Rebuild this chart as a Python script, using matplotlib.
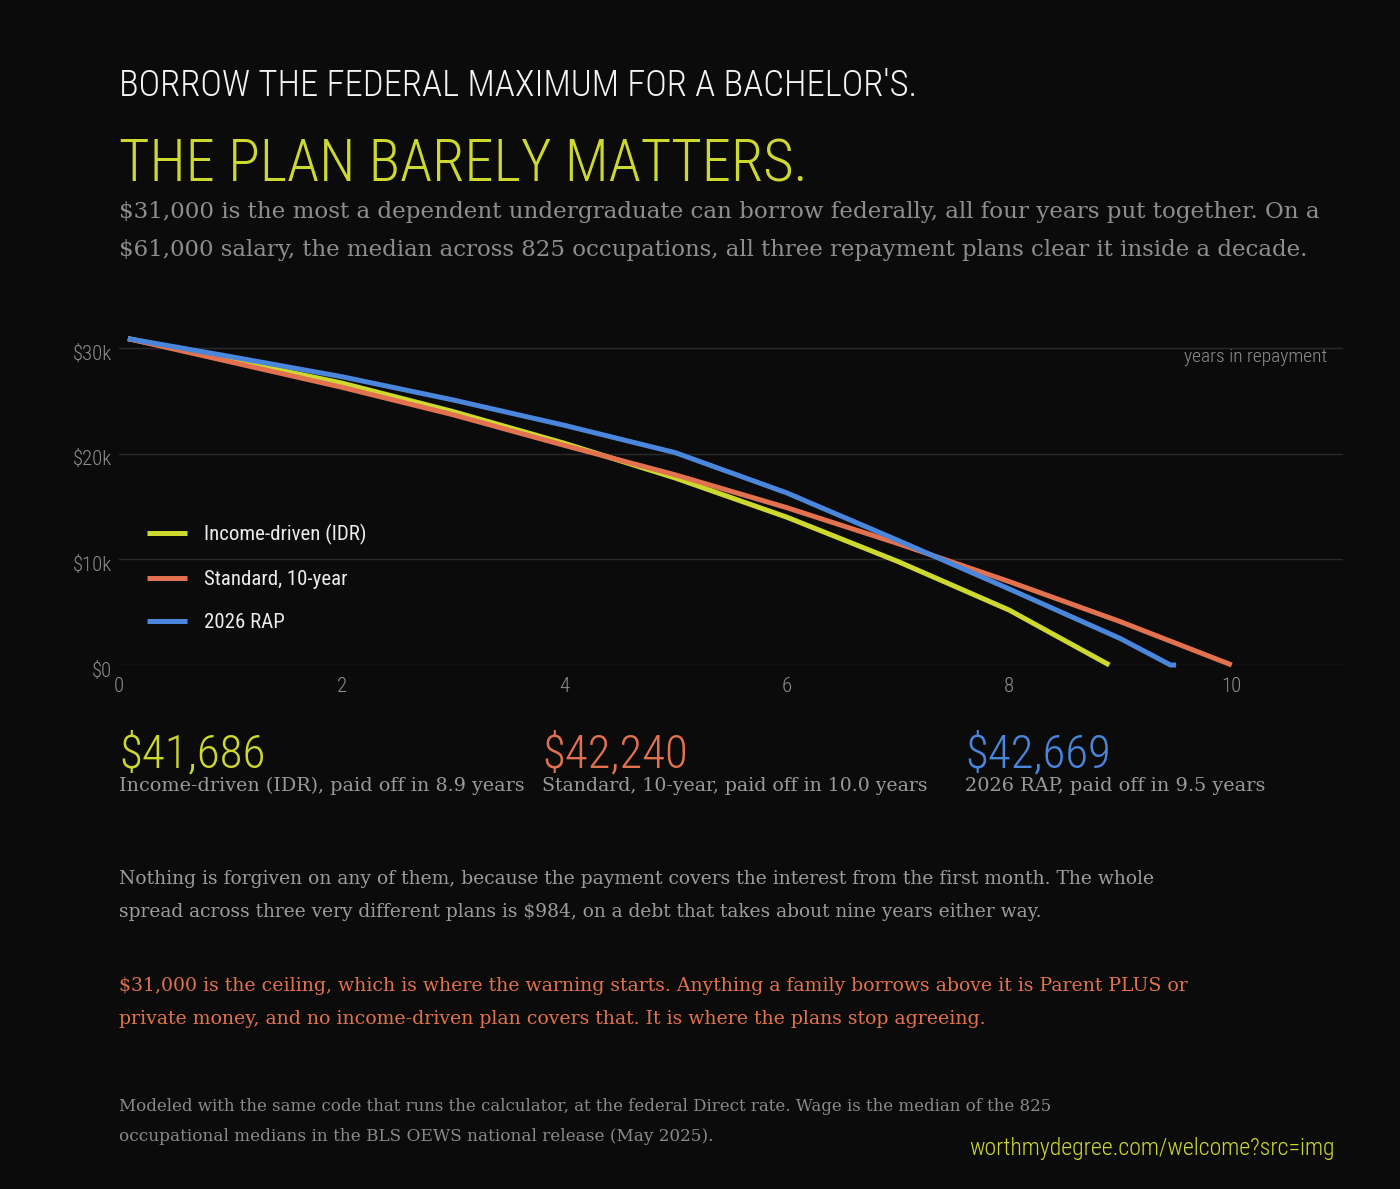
import matplotlib
matplotlib.use('Agg')
import matplotlib.pyplot as plt
import matplotlib.font_manager as fm
import matplotlib.transforms as mtransforms

# balances by year (first point is month one)
years_idr = [0.08, 1, 2, 3, 4, 5, 6, 7, 8, 8.9]
bal_idr = [30900, 28900, 26700, 24000, 21000, 17700, 14000, 9800, 5200, 0]
years_std = [0.08, 1, 2, 3, 4, 5, 6, 7, 8, 9, 10]
bal_std = [30900, 28700, 26300, 23700, 20800, 18000, 14900, 11500, 7900, 4100, 0]
years_rap = [0.08, 1, 2, 3, 4, 5, 6, 7, 8, 9, 9.45, 9.5]
bal_rap = [30900, 29200, 27300, 25100, 22700, 20100, 16300, 11800, 7200, 2500, 0, 0]

plan_names = ['Income-driven (IDR)', 'Standard, 10-year', '2026 RAP']
plan_totals = ['$41,686', '$42,240', '$42,669']
plan_years = ['8.9', '10.0', '9.5']

y_ticks = [0, 10000, 20000, 30000]
y_labels = ['$0', '$10k', '$20k', '$30k']
x_ticks = [0, 2, 4, 6, 8, 10]

BG = '#0b0b0b'
YEL = '#cdd92f'
ORA = '#e2714f'
BLU = '#4a86dc'
GRAY = '#8e8e8e'
colors = [YEL, ORA, BLU]

avail = {f.name for f in fm.fontManager.ttflist}
def pick(cands):
    for c in cands:
        if c in avail:
            return c
    return 'DejaVu Sans'

COND = pick(['Roboto Condensed', 'Liberation Sans Narrow', 'Open Sans Condensed', 'Roboto', 'Liberation Sans'])
SERIF = pick(['DejaVu Serif', 'Liberation Serif'])

W, H = 1400, 1189
fig = plt.figure(figsize=(14, 11.89), dpi=100, facecolor=BG)
renderer = fig.canvas.get_renderer()

def txt(x, y, s, width=None, size=14, ha='left', **kw):
    t = fig.text(x / W, 1 - y / H, s, ha=ha, va='baseline', fontsize=size, **kw)
    if width is not None:
        w = t.get_window_extent(renderer=renderer).width
        t.set_fontsize(size * width / w)
    return t

# headline block
txt(119, 96, "BORROW THE FEDERAL MAXIMUM FOR A BACHELOR'S.", width=800, size=30,
    color='#f4f4f4', family=COND, weight='light')
txt(119, 181, "THE PLAN BARELY MATTERS.", width=688, size=52,
    color=YEL, family=COND, weight='light')
txt(119, 218, "$31,000 is the most a dependent undergraduate can borrow federally, all four years put together. On a",
    width=1199, size=17, color=GRAY, family=SERIF)
txt(119, 256, "$61,000 salary, the median across 825 occupations, all three repayment plans clear it inside a decade.",
    width=1194, size=17, color=GRAY, family=SERIF)

# chart
ax = fig.add_axes([119 / W, 1 - 665 / H, 1224 / W, (665 - 327) / H])
ax.set_facecolor(BG)
for xs, ys, c, name in zip([years_idr, years_std, years_rap], [bal_idr, bal_std, bal_rap], colors, plan_names):
    ax.plot(xs, ys, color=c, lw=3.6, label=name, solid_capstyle='butt', clip_on=False)

ax.set_xlim(0, 11)
ax.set_ylim(0, 32000)
ax.set_yticks(y_ticks)
ax.set_yticklabels(y_labels)
ax.set_xticks(x_ticks)
ax.grid(axis='y', color='#2a2a2a', lw=1)
ax.set_axisbelow(True)
for s in ax.spines.values():
    s.set_visible(False)
ax.tick_params(axis='both', length=0, labelcolor=GRAY, labelsize=15)
ax.tick_params(axis='y', pad=5)
ax.tick_params(axis='x', pad=9)
for lbl in ax.get_xticklabels() + ax.get_yticklabels():
    lbl.set_family(COND)
    lbl.set_weight('light')
off = mtransforms.ScaledTranslation(0, -3 / 72, fig.dpi_scale_trans)
for lbl in ax.get_yticklabels():
    lbl.set_transform(lbl.get_transform() + off)

ax.text(0.987, 0.91, 'years in repayment', transform=ax.transAxes, ha='right', va='center',
        color=GRAY, fontsize=14, family=COND, weight='light')

leg = ax.legend(loc='upper left', bbox_to_anchor=(0.0, 0.5), frameon=False,
                handlelength=1.92, handletextpad=0.82, labelspacing=1.18, borderaxespad=0.95,
                prop={'family': COND, 'size': 15})
for t in leg.get_texts():
    t.set_color('#ececec')

# totals
for x0, total, c, name, yrs, wid in zip([119, 542, 965], plan_totals, colors, plan_names,
                                        plan_years, [406, 386, 300]):
    txt(x0, 767, total, width=146, size=34, color=c, family=COND, weight='light')
    txt(x0, 791, f'{name}, paid off in {yrs} years', width=wid, size=15, color='#9a9a9a', family=SERIF)

# notes
txt(119, 884, "Nothing is forgiven on any of them, because the payment covers the interest from the first month. The whole",
    width=1047, size=15, color='#9c9c9c', family=SERIF)
txt(119, 917, "spread across three very different plans is $984, on a debt that takes about nine years either way.",
    width=934, size=15, color='#9c9c9c', family=SERIF)
txt(119, 991, "$31,000 is the ceiling, which is where the warning starts. Anything a family borrows above it is Parent PLUS or",
    width=1074, size=15, color=ORA, family=SERIF)
txt(119, 1024, "private money, and no income-driven plan covers that. It is where the plans stop agreeing.",
    width=869, size=15, color=ORA, family=SERIF)
txt(119, 1111, "Modeled with the same code that runs the calculator, at the federal Direct rate. Wage is the median of the 825",
    width=934, size=13, color='#8a8a8a', family=SERIF)
txt(119, 1141, "occupational medians in the BLS OEWS national release (May 2025).",
    width=592, size=13, color='#8a8a8a', family=SERIF)
txt(1335, 1155, "worthmydegree.com/welcome?src=img", width=364, size=20, ha='right',
    color=YEL, family=COND, weight='light')

fig.savefig('out.png', dpi=100, facecolor=BG)
